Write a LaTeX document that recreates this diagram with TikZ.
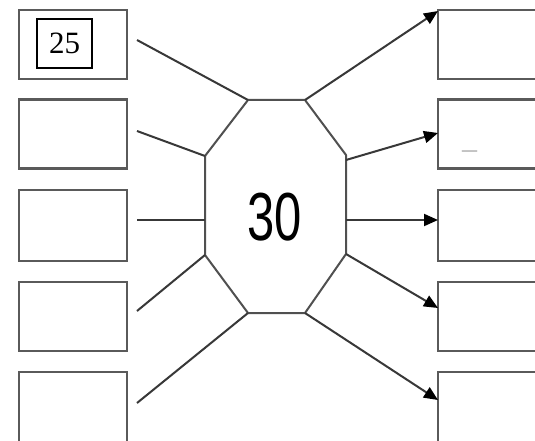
\documentclass[tikz,border=0pt]{standalone}
\usepackage{fontspec}
\setmainfont{Liberation Serif}
\newfontfamily\numsans{Liberation Sans}
\usetikzlibrary{arrows.meta}
\definecolor{boxgray}{HTML}{5A5A5A}
\definecolor{linegray}{HTML}{383838}
\definecolor{octgray}{HTML}{505050}
\begin{document}
\begin{tikzpicture}[x=1pt,y=-1pt,
  slot/.style={draw=boxgray, line width=2.5pt, minimum width=108pt, minimum height=69pt, inner sep=0pt, outer sep=0pt},
  rslot/.style={slot, minimum width=110pt},
  link/.style={draw=linegray, line width=2pt},
  arr/.style={link, -{Triangle[length=14pt,width=12pt,color=black]}},
  valbox/.style={draw=black, line width=1.3pt, minimum width=55pt, minimum height=49pt, inner sep=0pt, font=\fontsize{31}{31}\selectfont},
  bignum/.style={inner sep=0pt, xscale=0.72, font=\numsans\fontsize{68}{68}\selectfont}
]
\useasboundingbox (0,0) rectangle (535,441);
\clip (0,0) rectangle (535,441);
\fill[white] (0,0) rectangle (535,441);

% left boxes
\node[slot] (l1) at (73,44.5) {};
\node[slot] (l2) at (73,134) {};
\node[slot, minimum height=71pt] (l3) at (73,225.5) {};
\node[slot] (l4) at (73,316.5) {};
\node[slot, minimum height=74pt] (l5) at (73,409) {};
\node[valbox] (v25) at (64.5,43.5) {25};

% right boxes
\node[rslot] (r1) at (493,44.5) {};
\node[rslot] (r2) at (493,134) {};
\node[rslot, minimum height=71pt] (r3) at (493,225.5) {};
\node[rslot] (r4) at (493,316.5) {};
\node[rslot, minimum height=74pt] (r5) at (493,409) {};
\node[text=gray!60, inner sep=0pt, anchor=base, font=\fontsize{30}{30}\selectfont] (dash) at (469.5,158) {\textendash};

% octagon
\coordinate (o1) at (248,100);
\coordinate (o2) at (305,100);
\coordinate (o3) at (346,155);
\coordinate (o4) at (346,254);
\coordinate (o5) at (305,313);
\coordinate (o6) at (248,313);
\coordinate (o7) at (205,255);
\coordinate (o8) at (205,156);
\draw[draw=octgray, line width=2pt, line join=round] (o1) -- (o2) -- (o3) -- (o4) -- (o5) -- (o6) -- (o7) -- (o8) -- cycle;
\node[bignum] (c30) at (274.5,217.5) {30};

% left connector starts and middle points
\coordinate (s1) at (137,40);
\coordinate (s2) at (137,131);
\coordinate (s3) at (137,220);
\coordinate (s4) at (137,311);
\coordinate (s5) at (137,403);
\coordinate (m3) at (205,220);
\draw[link] (s1) -- (o1);
\draw[link] (s2) -- (o8);
\draw[link] (s3) -- (m3);
\draw[link] (s4) -- (o7);
\draw[link] (s5) -- (o6);

% right arrows
\coordinate (a2) at (346,160);
\coordinate (a3) at (346,220);
\coordinate (e1) at (438,11);
\coordinate (e2) at (438,133);
\coordinate (e3) at (438,220);
\coordinate (e4) at (438,308);
\coordinate (e5) at (438,400);
\draw[arr] (o2) -- (e1);
\draw[arr] (a2) -- (e2);
\draw[arr] (a3) -- (e3);
\draw[arr] (o4) -- (e4);
\draw[arr] (o5) -- (e5);
\end{tikzpicture}
\end{document}
